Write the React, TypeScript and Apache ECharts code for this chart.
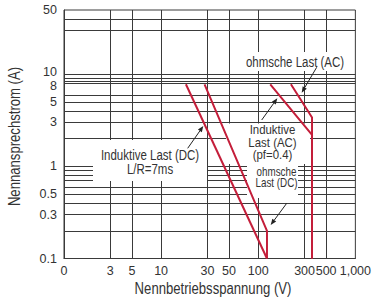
import React, { useEffect, useRef } from 'react';
import * as echarts from 'echarts';

// ---- data ----
const xTickValues = [1, 3, 5, 10, 30, 50, 100, 300, 500, 1000];
const yTickValues = [0.1, 0.3, 0.5, 1, 3, 5, 8, 10, 50];
const xGridValues = [3, 5, 10, 30, 50, 100, 300, 500];
const yGridValues = [0.2, 0.3, 0.4, 0.5, 0.6, 0.7, 0.8, 0.9, 1, 2, 3, 4, 5, 6, 8, 8.5, 9, 10, 30, 40];

const dcInductive = [[18, 7.8], [123, 0.1]];
const dcResistive = [[28, 7.8], [123, 0.2], [123, 0.1]];
const acInductive = [[133, 7.8], [358, 2.2], [358, 0.1]];
const acResistive = [[217, 7.8], [358, 3.4], [358, 0.1]];

const xAxisName = 'Nennbetriebsspannung (V)';
const yAxisName = 'Nennansprechstrom (A)';

const FONT = '"Liberation Sans", Arial, "DejaVu Sans Condensed", sans-serif';
const RED = '#c41e3a';
const GRID = '#3a3a3a';
const TEXT = '#333';
const NARROW = 0.82;

function arrow(x1: number, y1: number, x2: number, y2: number) {
  const dx = x2 - x1, dy = y2 - y1;
  const len = Math.hypot(dx, dy);
  const ux = dx / len, uy = dy / len;
  const hl = 6, hw = 2.4;
  const bx = x2 - ux * hl, by = y2 - uy * hl;
  return [
    { type: 'line', z: 10, shape: { x1, y1, x2: bx, y2: by }, style: { stroke: '#222', lineWidth: 1 } },
    {
      type: 'polygon', z: 10,
      shape: { points: [[x2, y2], [bx - uy * hw, by + ux * hw], [bx + uy * hw, by - ux * hw]] },
      style: { fill: '#222' },
    },
  ];
}

function box(x: number, y: number, w: number, h: number) {
  return { type: 'rect', z: 1, shape: { x, y, width: w, height: h }, style: { fill: '#fff' } };
}

function label(text: string, x: number, y: number, size: number, lh: number, sx = NARROW, rotation = 0) {
  return {
    type: 'text', z: 11, x, y, scaleX: sx, rotation,
    style: { text, x: 0, y: 0, align: 'center', verticalAlign: 'middle', font: `${size}px ${FONT}`, fill: TEXT, lineHeight: lh },
  };
}

export default function App() {
  const ref = useRef<HTMLDivElement>(null);
  useEffect(() => {
    if (!ref.current) return;
    const chart = echarts.init(ref.current, null, { renderer: 'svg' });
    const redSeries = (name: string, data: number[][]) => ({
      name, type: 'line', data, symbol: 'none', z: 3, silent: true,
      lineStyle: { color: RED, width: 2 },
    });
    chart.setOption({
      animation: false,
      backgroundColor: '#fff',
      grid: { left: 64, right: 17, top: 10, bottom: 43.5, show: true, borderColor: GRID, borderWidth: 1 },
      xAxis: {
        type: 'log', logBase: 10, min: 1, max: 1000.01,
        axisLine: { show: true, lineStyle: { color: GRID } },
        axisTick: { show: false },
        splitLine: { show: false },
        axisLabel: {
          customValues: xTickValues,
          formatter: (v: number) => (v === 1 ? '0' : v >= 999 ? '1,000' : String(v)),
          fontSize: 12.5, fontFamily: FONT, color: TEXT, margin: 6,
        },
      },
      yAxis: {
        type: 'log', logBase: 10, min: 0.1, max: 50,
        axisLine: { show: true, lineStyle: { color: GRID } },
        axisTick: { show: false },
        splitLine: { show: false },
        axisLabel: {
          customValues: yTickValues,
          formatter: (v: number) => {
            const s = String(+v.toPrecision(3));
            if (s === '10') return '{t|10}';
            if (s === '8') return '{b|8}';
            return s;
          },
          fontSize: 12.5, lineHeight: 10, fontFamily: FONT, color: TEXT, margin: 7,
          rich: {
            t: { padding: [0, 0, 4, 0], lineHeight: 10, fontSize: 12.5, fontFamily: FONT, color: TEXT },
            b: { padding: [6, 0, 0, 0], lineHeight: 10, fontSize: 12.5, fontFamily: FONT, color: TEXT },
          },
        },
      },
      series: [
        {
          type: 'line', data: [], z: 0, silent: true,
          markLine: {
            z: 0, silent: true, symbol: ['none', 'none'], label: { show: false },
            lineStyle: { color: GRID, width: 1, type: 'solid' },
            data: [
              ...xGridValues.map((v) => ({ xAxis: v })),
              ...yGridValues.map((v) => ({ yAxis: v })),
            ],
          },
        },
        redSeries('Induktive Last (DC)', dcInductive),
        redSeries('ohmsche Last (DC)', dcResistive),
        redSeries('Induktive Last (AC)', acInductive),
        redSeries('ohmsche Last (AC)', acResistive),
      ],
      graphic: [
        box(245, 52, 100, 19),
        box(93, 140, 114, 41),
        box(226, 123.5, 84, 40.5),
        box(247, 164, 51, 34),
        label(xAxisName, 213, 289, 16, 18),
        label(yAxisName, 15, 136.5, 16, 18, NARROW, Math.PI / 2),
        label('ohmsche Last (AC)', 295, 62, 14, 16),
        label('Induktive\nLast (AC)\n(pf=0.4)', 272.5, 142.5, 13, 12.4, 0.88),
        label('Induktive Last (DC)\nL/R=7ms', 150, 162, 14, 14.3),
        label('ohmsche\nLast (DC)', 276.5, 177.5, 12, 11),
        ...arrow(316.7, 67.3, 301.7, 92.7),
        ...arrow(261.7, 120, 277.3, 98.3),
        ...arrow(187.7, 148.3, 203.3, 126),
        ...arrow(286.7, 203.3, 270.7, 225),
      ],
    });
    return () => chart.dispose();
  }, []);
  return <div ref={ref} style={{ position: 'absolute', left: 0, top: 0, width: 374, height: 302 }} />;
}
